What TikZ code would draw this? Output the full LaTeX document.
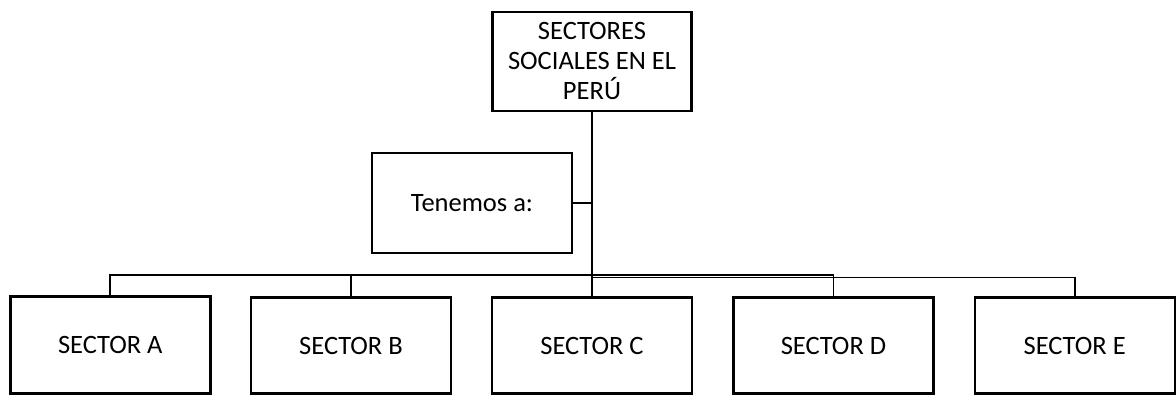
\documentclass[tikz,border=0pt]{standalone}
\usepackage{fontspec}
\setmainfont{Carlito}
\begin{document}
\begin{tikzpicture}[x=1pt,y=-1pt,
  box/.style={draw,line width=2.4pt,inner sep=0pt,outer sep=0pt,align=center,
    font=\fontsize{26.5}{30}\selectfont},
  conn/.style={line width=1.8pt}]
\useasboundingbox (0,0) rectangle (1176,395);
\node[box,minimum width=199pt,minimum height=99pt] (top) at (592,61.5)
  {SECTORES\\SOCIALES EN EL\\PERÚ};
\node[box,minimum width=200pt,minimum height=100pt] (ten) at (472,203) {Tenemos a:};
\node[box,minimum width=200pt,minimum height=97pt] (A) at (110.3,345) {SECTOR A};
\node[box,minimum width=200pt,minimum height=96pt] (B) at (351,345.5) {SECTOR B};
\node[box,minimum width=200pt,minimum height=96pt] (C) at (592,345.5) {SECTOR C};
\node[box,minimum width=200pt,minimum height=96pt] (D) at (833.5,345.5) {SECTOR D};
\node[box,minimum width=200pt,minimum height=96pt] (E) at (1074.7,345.5) {SECTOR E};
\coordinate (bus) at (592,275);
\coordinate (busr) at (592,277.5);
\draw[conn] (top.south) -- (C.north);
\draw[conn] (ten.east) -- (ten.east -| top.south);
\draw[conn] (bus) -| (A.north);
\draw[conn] (bus) -| (B.north);
\draw[conn] (bus) -| (D.north);
\draw[conn] (busr) -| (E.north);
\end{tikzpicture}
\end{document}
